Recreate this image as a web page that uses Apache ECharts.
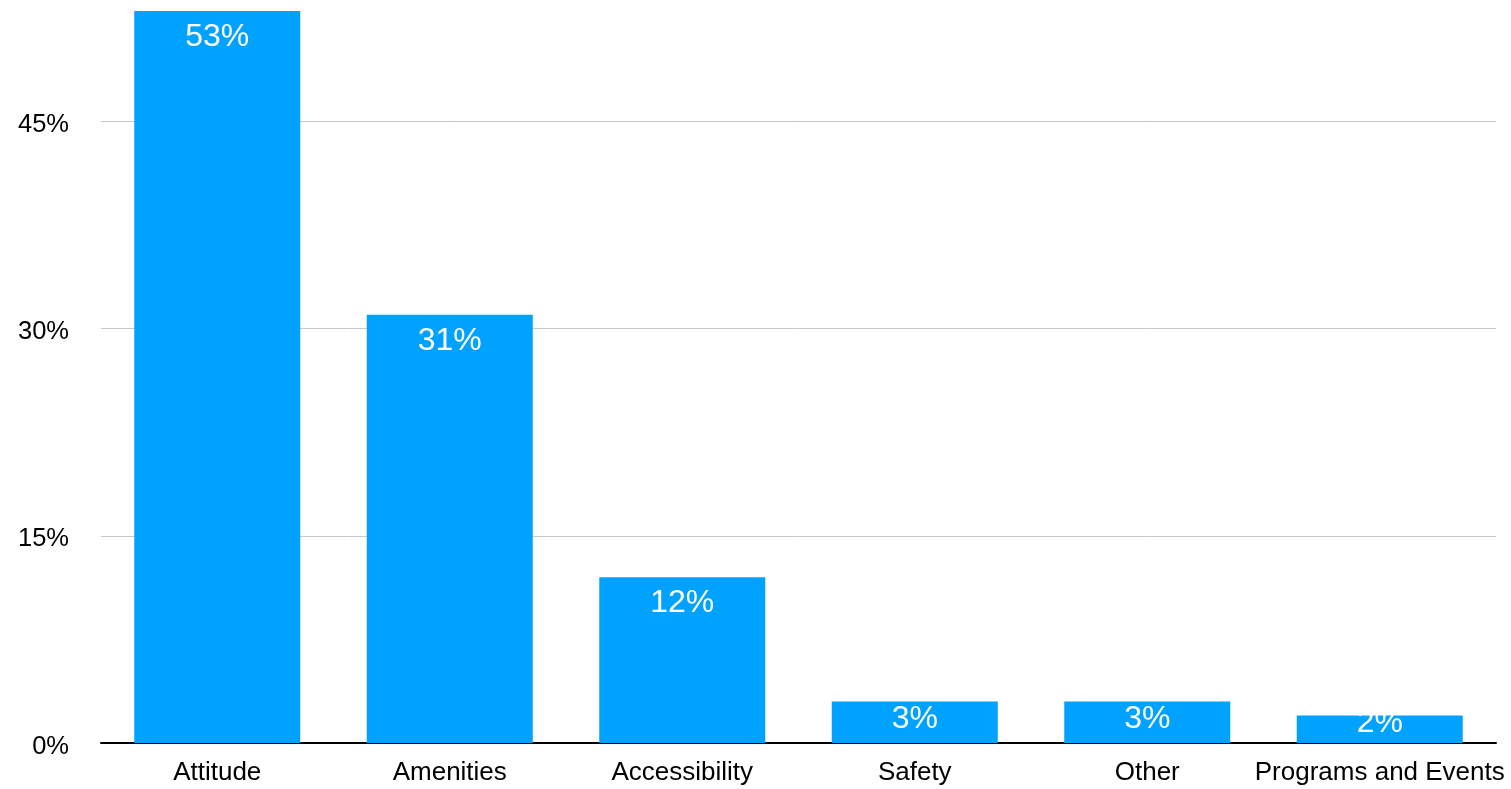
<!DOCTYPE html>
<html>
<head>
<meta charset="utf-8">
<script src="https://cdn.jsdelivr.net/npm/echarts@6/dist/echarts.min.js"></script>
<style>
html,body{margin:0;padding:0;background:#fff;}
#chart{width:1511px;height:789px;}
</style>
</head>
<body>
<div id="chart"></div>
<script>
const categories = ["Attitude", "Amenities", "Accessibility", "Safety", "Other", "Programs and Events"];
const values = [53, 31, 12, 3, 3, 2];
const yTicks = [0, 15, 30, 45];

const font = '"Liberation Sans", Helvetica, Arial, sans-serif';
const chart = echarts.init(document.getElementById('chart'));

const data = values.map(function (v) {
  const item = { value: v };
  if (v < 5) {
    item.label = { position: 'insideTop', distance: v < 2.5 ? -8 : 2 };
  }
  return item;
});

chart.setOption({
  animation: false,
  grid: { left: 101, right: 15, top: 11, bottom: 46, containLabel: false },
  xAxis: {
    type: 'category',
    data: categories,
    axisLine: { show: true, lineStyle: { color: '#000', width: 2 } },
    axisTick: { show: false },
    axisLabel: { color: '#000', fontSize: 26, fontFamily: font, margin: 17, interval: 0 }
  },
  yAxis: {
    type: 'value',
    min: 0,
    max: 53,
    interval: 15,
    axisLine: { show: false },
    axisTick: { show: false },
    axisLabel: {
      color: '#000', fontSize: 25.5, fontFamily: font, margin: 32,
      verticalAlign: 'top', lineHeight: 7,
      formatter: function (v) { return yTicks.indexOf(v) >= 0 ? v + '%' : ''; }
    },
    splitLine: { show: true, showMaxLine: false, lineStyle: { color: '#c8c8c8', width: 1 } }
  },
  series: [{
    type: 'bar',
    data: data,
    barWidth: 166,
    itemStyle: { color: '#00A2FF' },
    label: {
      show: true,
      position: 'insideTop',
      distance: 10,
      color: '#fff',
      fontSize: 32,
      fontFamily: font,
      formatter: '{c}%'
    }
  }]
});
</script>
</body>
</html>
